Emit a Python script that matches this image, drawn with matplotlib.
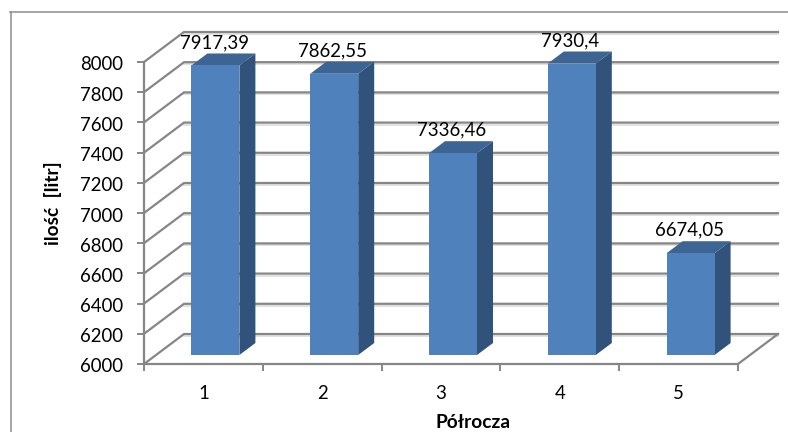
import matplotlib
matplotlib.use("Agg")
import matplotlib.pyplot as plt
from matplotlib.lines import Line2D
from matplotlib.transforms import ScaledTranslation

plt.rcParams['font.family'] = ['Lato', 'DejaVu Sans']

categories = [1, 2, 3, 4, 5]
values = [7917.39, 7862.55, 7336.46, 7930.4, 6674.05]
y_ticks = list(range(6000, 8001, 200))

W, H = 788, 432
GRID = '#868686'
SHADOW = '#dcdcdc'
FRONT = '#4f81bd'
SIDE = '#31527a'
TOP = '#3d6594'

# depth of the fake 3d box, in data units
DX = 40 / 118.8
DY = 30 / 302 * 2000
BAR_W = 48 / 118.8


def proj(x, v, d):
    """data position of a point pushed back by depth d (0 front, 1 back)"""
    return x + d * DX, v + d * DY


fig = plt.figure(figsize=(W / 100, H / 100), dpi=100, facecolor='white')
ax = fig.add_axes([144 / W, 1 - 364 / H, 594 / W, 302 / H])
ax.set_xlim(0.5, 5.5)
ax.set_ylim(6000, 8000)
ax.patch.set_visible(False)

# chart area border, only top and left are inside the picture
fig.add_artist(Line2D([10.5 / W, 10.5 / W], [0, 1 - 12 / H], color='#8c8c8c', lw=1.1))
fig.add_artist(Line2D([10 / W, 1], [1 - 12 / H, 1 - 12 / H], color='#8c8c8c', lw=1.1))

# walls and gridlines
for v in y_ticks:
    x0, y0 = proj(0.5, v, 0)
    x1, y1 = proj(0.5, v, 1)
    x2, y2 = proj(5.5, v, 1)
    ax.plot([x1, x2], [y1 - 13, y2 - 13], color=SHADOW, lw=1.2, clip_on=False, zorder=1)
    ax.plot([x0, x1, x2], [y0, y1, y2], color=GRID, lw=1.6, clip_on=False, zorder=2,
            solid_joinstyle='miter')
x1, y1 = proj(5.5, 6000, 0)
x2, y2 = proj(5.5, 6000, 1)
ax.plot([x1, x2], [y1, y2], color=GRID, lw=1.6, clip_on=False, zorder=2)

# bars
for c, v in zip(categories, values):
    xl = c - BAR_W / 2
    xr = c + BAR_W / 2
    p1 = proj(xl, 6000, 0.3)
    p2 = proj(xr, 6000, 0.3)
    p3 = proj(xr, v, 0.3)
    p4 = proj(xl, v, 0.3)
    p5 = proj(xr, 6000, 0.7)
    p6 = proj(xr, v, 0.7)
    p7 = proj(xl, v, 0.7)
    ax.fill(*zip(p2, p5, p6, p3), color=SIDE, lw=0, clip_on=False, zorder=3)
    ax.fill(*zip(p4, p3, p6, p7), color=TOP, lw=0, clip_on=False, zorder=3)
    ax.fill(*zip(p1, p2, p3, p4), color=FRONT, lw=0, clip_on=False, zorder=4)
    lx, ly = proj(c, v, 0.3)
    ax.annotate(str(v).replace('.', ','), (lx, ly), xytext=(-1, 16.6), textcoords='offset points',
                ha='center', va='center', fontsize=13.4, color='black', zorder=5,
                annotation_clip=False)

for side in ['top', 'right']:
    ax.spines[side].set_visible(False)
for side in ['left', 'bottom']:
    ax.spines[side].set_color(GRID)
    ax.spines[side].set_linewidth(1.6)
    ax.spines[side].set_zorder(2)

ax.set_yticks(y_ticks)
ax.set_xticks(categories)
ax.set_xticks([0.5, 1.5, 2.5, 3.5, 4.5, 5.5], minor=True)
ax.tick_params(axis='y', length=5, width=1.4, color=GRID, pad=10, labelsize=13.4)
ax.tick_params(axis='x', which='major', length=0, pad=15, labelsize=13.4)
ax.tick_params(axis='x', which='minor', length=5, width=1.4, color=GRID)

# Lato digits sit a bit high next to the tick, push them down
nudge = ScaledTranslation(0, -1.5 / 100, fig.dpi_scale_trans)
for lab in ax.get_yticklabels():
    lab.set_transform(lab.get_transform() + nudge)

fig.text(53 / W, 1 - 203 / H, 'ilość  [litr]', rotation=90, ha='center', va='center',
         fontsize=13.8, fontweight='bold')
fig.text(473 / W, 1 - 422 / H, 'Półrocza', ha='center', va='center',
         fontsize=13.8, fontweight='bold')

fig.savefig('out.png', dpi=100)
